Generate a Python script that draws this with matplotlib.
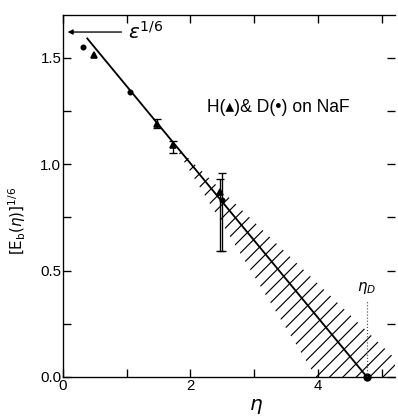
import matplotlib
matplotlib.use("Agg")
import matplotlib.pyplot as plt
import numpy as np
from matplotlib.patches import Polygon

plt.rcParams['font.family'] = ['Liberation Sans', 'DejaVu Sans']
plt.rcParams['mathtext.fontset'] = 'dejavusans'
plt.rcParams['hatch.linewidth'] = 0.7

# --- data ---
fit_x = [0.38, 4.77]
fit_y = [1.59, 0.0]

d_x = [0.31, 1.05, 2.50]
d_y = [1.55, 1.34, 0.83]
d_err_lo = [0.0, 0.0, 0.24]
d_err_hi = [0.0, 0.0, 0.13]

h_x = [0.49, 1.47, 1.73, 2.47]
h_y = [1.51, 1.19, 1.09, 0.87]
h_err_lo = [0.0, 0.02, 0.04, 0.28]
h_err_hi = [0.0, 0.02, 0.02, 0.06]

band_x = [1.72, 3.97, 5.51]
band_y = [1.10, 0.0, 0.0]

eps_y = 1.62
eps_from_x = 0.97
eta_d = 4.77
eta_d_top = 0.36

x_major = [0, 2, 4]
x_minor = [1, 3, 5]
y_major = [0.0, 0.5, 1.0, 1.5]
y_minor = [0.25, 0.75, 1.25]

DPI = 120
fig = plt.figure(figsize=(398 / DPI, 417 / DPI), dpi=DPI)
ax = fig.add_axes([63 / 398, 1 - 377 / 417, (395 - 63) / 398, (377 - 15) / 417])
ax.set_xlim(0, 5.21)
ax.set_ylim(0, 1.70)

# hatched band
poly = Polygon(list(zip(band_x, band_y)), closed=True, fill=False,
               edgecolor='black', linewidth=0, hatch='///')
ax.add_patch(poly)

# fit line
ax.plot(fit_x, fit_y, color='black', lw=1.1)
ax.plot([eta_d], [0.0], 'o', color='black', ms=4, clip_on=False)


def with_err(x, y, lo, hi):
    x, y, lo, hi = map(np.asarray, (x, y, lo, hi))
    m = (lo > 0) | (hi > 0)
    return x[m], y[m], np.vstack([lo[m], hi[m]])


ex, ey, ee = with_err(d_x, d_y, d_err_lo, d_err_hi)
ax.errorbar(ex, ey, yerr=ee, fmt='none', ecolor='black',
            elinewidth=0.8, capsize=2.5, capthick=0.8)
ex, ey, ee = with_err(h_x, h_y, h_err_lo, h_err_hi)
ax.errorbar(ex, ey, yerr=ee, fmt='none', ecolor='black',
            elinewidth=0.8, capsize=2.5, capthick=0.8)

ax.plot(d_x, d_y, 'o', color='black', ms=2.6, ls='none')
ax.plot(h_x, h_y, '^', color='black', ms=3.6, ls='none')

# epsilon arrow
ax.annotate('', xy=(0.02, eps_y), xytext=(eps_from_x, eps_y),
            arrowprops=dict(arrowstyle='-|>', color='black', lw=0.8,
                            mutation_scale=6))
ax.text(eps_from_x + 0.05, eps_y, r'$\varepsilon^{1/6}$', fontsize=12,
        va='center', ha='left')

# eta_D marker
ax.plot([eta_d, eta_d], [0.0, eta_d_top], color='0.3', lw=0.7, ls=':')
ax.text(eta_d, eta_d_top + 0.02, r'$\eta_D$', fontsize=9, ha='center', va='bottom')

ax.text(0.435, 0.745, 'H(▴)& D(•) on NaF', transform=ax.transAxes,
        fontsize=10.5, ha='left', va='center')

ax.set_xticks(x_major)
ax.set_xticks(x_minor, minor=True)
ax.set_yticks(y_major)
ax.set_yticks(y_minor, minor=True)
ax.set_xticklabels([str(v) for v in x_major])
ax.set_yticklabels(['%.1f' % v for v in y_major])

ax.tick_params(which='both', direction='in', top=True, right=True,
               length=5, width=0.8, labelsize=9)
ax.tick_params(axis='y', pad=1)
ax.tick_params(axis='x', pad=1.5)

for s in ['left', 'bottom', 'top']:
    ax.spines[s].set_linewidth(0.8)
ax.spines['right'].set_visible(False)

ax.set_xlabel(r'$\eta$', fontsize=12)
ax.xaxis.set_label_coords(0.58, -0.055)
ax.set_ylabel(r'$[\mathrm{E_b}(\eta)]^{1/6}$', fontsize=9)
ax.yaxis.set_label_coords(-0.105, 0.43)

fig.savefig('out.png', dpi=DPI)
